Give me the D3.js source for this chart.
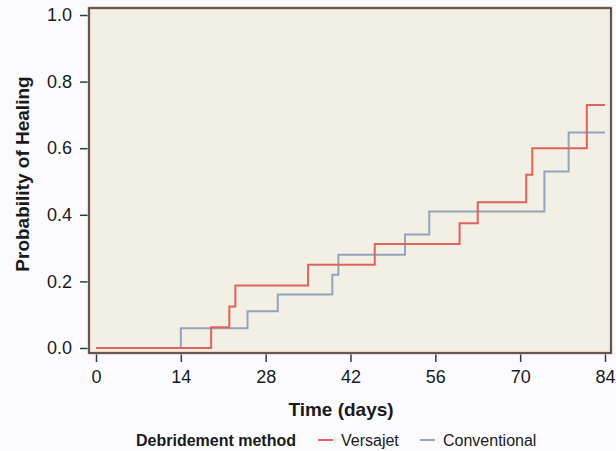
<!DOCTYPE html>
<html>
<head>
<meta charset="utf-8">
<script src="https://cdn.jsdelivr.net/npm/d3@7"></script>
<style>
  body { margin: 0; background: #fbfbfd; }
  svg { display: block; font-family: "Liberation Sans", Arial, sans-serif; }
</style>
</head>
<body>
<script>
// Kaplan-Meier style steps
const versajetDays = [0, 19, 22, 23, 35, 46, 60, 63, 71, 72, 81, 84]
const versajetProb = [0, 0.0625, 0.125, 0.1875, 0.25, 0.3125, 0.375, 0.4375, 0.52, 0.60, 0.73, 0.73]
const conventionalDays = [0, 14, 25, 30, 39, 40, 51, 55, 74, 78, 84]
const conventionalProb = [0, 0.059, 0.11, 0.161, 0.22, 0.28, 0.341, 0.41, 0.53, 0.647, 0.647]
const xTicks = [0, 14, 28, 42, 56, 70, 84]
const yTicks = [0, 0.2, 0.4, 0.6, 0.8, 1.0]

const w = 616
const h = 451

const svg = d3.select('body').append('svg')
  .attr('width', w)
  .attr('height', h)

const xScale = d3.scaleLinear().domain([0, 84]).range([96, 605])
const yScale = d3.scaleLinear().domain([0, 1]).range([348, 15])

// plot area
const frame = { x: 89, y: 8, w: 522, h: 345 }
svg.append('rect')
  .attr('x', frame.x).attr('y', frame.y)
  .attr('width', frame.w).attr('height', frame.h)
  .attr('fill', '#f2efe4')

// axes
const xAxis = d3.axisBottom(xScale).tickValues(xTicks).tickSize(9).tickSizeOuter(0)
const yAxis = d3.axisLeft(yScale).tickValues(yTicks).tickSize(9).tickSizeOuter(0)
  .tickFormat(d3.format('.1f'))

const gx = svg.append('g')
  .attr('transform', 'translate(0,' + (frame.y + frame.h) + ')')
  .call(xAxis)
gx.select('.domain').remove()
gx.selectAll('line').attr('stroke', '#2b3d42').attr('stroke-width', 1.5)
gx.selectAll('text')
  .attr('y', 17)
  .attr('dy', '0.71em')
  .attr('fill', '#1a1a1a')
  .style('font-size', '18px')

const gy = svg.append('g')
  .attr('transform', 'translate(' + frame.x + ',0)')
  .call(yAxis)
gy.select('.domain').remove()
gy.selectAll('line').attr('stroke', '#2b3d42').attr('stroke-width', 1.5)
gy.selectAll('text')
  .attr('x', -17)
  .attr('fill', '#1a1a1a')
  .style('font-size', '18px')

// curves
const line = d3.line()
  .x(d => xScale(d[0]))
  .y(d => yScale(d[1]))
  .curve(d3.curveStepAfter)

const series = [
  { name: 'Conventional', days: conventionalDays, prob: conventionalProb, color: '#95a4b8' },
  { name: 'Versajet', days: versajetDays, prob: versajetProb, color: '#e2625c' }
]

series.forEach(s => {
  svg.append('path')
    .datum(d3.zip(s.days, s.prob))
    .attr('d', line)
    .attr('fill', 'none')
    .attr('stroke', s.color)
    .attr('stroke-width', 2)
})

// frame border
svg.append('rect')
  .attr('x', frame.x).attr('y', frame.y)
  .attr('width', frame.w).attr('height', frame.h)
  .attr('fill', 'none')
  .attr('stroke', '#f0b8a4')
  .attr('stroke-width', 3)
svg.append('rect')
  .attr('x', frame.x).attr('y', frame.y)
  .attr('width', frame.w).attr('height', frame.h)
  .attr('fill', 'none')
  .attr('stroke', '#2b3d42')
  .attr('stroke-width', 1.5)

// axis titles
svg.append('text')
  .attr('x', 341).attr('y', 416)
  .attr('text-anchor', 'middle')
  .style('font-size', '19px')
  .style('font-weight', 'bold')
  .attr('fill', '#1a1a1a')
  .text('Time (days)')

svg.append('text')
  .attr('transform', 'translate(29,174) rotate(-90)')
  .attr('text-anchor', 'middle')
  .style('font-size', '19px')
  .style('font-weight', 'bold')
  .attr('fill', '#1a1a1a')
  .text('Probability of Healing')

// legend
const legend = svg.append('g').attr('transform', 'translate(0,446)')
legend.append('text')
  .attr('x', 136)
  .style('font-size', '16px')
  .style('font-weight', 'bold')
  .attr('fill', '#1a1a1a')
  .text('Debridement method')

const items = [
  { label: 'Versajet', color: '#e2625c', x: 318 },
  { label: 'Conventional', color: '#95a4b8', x: 420 }
]
items.forEach(it => {
  legend.append('line')
    .attr('x1', it.x).attr('x2', it.x + 15)
    .attr('y1', -6).attr('y2', -6)
    .attr('stroke', it.color)
    .attr('stroke-width', 2)
  legend.append('text')
    .attr('x', it.x + 23)
    .style('font-size', '16px')
    .attr('fill', '#1a1a1a')
    .text(it.label)
})
</script>
</body>
</html>
